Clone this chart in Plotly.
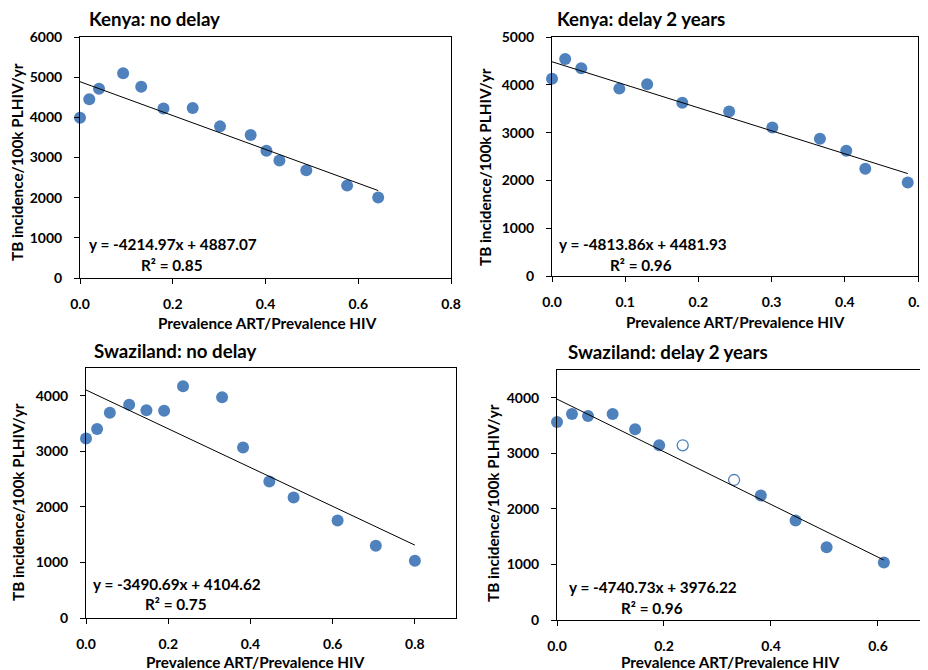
import plotly.graph_objects as go

# page body has an 8px margin; figure fills the rest of the 928x670 window
OFF = 8
W, H = 928 - OFF, 670 - OFF
BLUE = "#4F81BD"
FONT = "Lato"

# ---- data ----
kenya_nd_x = [0.0, 0.020, 0.041, 0.093, 0.132, 0.180, 0.243, 0.302, 0.368, 0.402, 0.430, 0.488, 0.576, 0.643]
kenya_nd_y = [3990, 4450, 4710, 5095, 4760, 4220, 4235, 3775, 3560, 3170, 2925, 2680, 2300, 2005]

kenya_d2_x = [0.0, 0.018, 0.040, 0.092, 0.130, 0.178, 0.242, 0.301, 0.366, 0.402, 0.428, 0.486]
kenya_d2_y = [4125, 4540, 4345, 3920, 4010, 3625, 3440, 3105, 2870, 2620, 2245, 1955]

swazi_nd_x = [0.0, 0.027, 0.058, 0.105, 0.147, 0.190, 0.236, 0.331, 0.382, 0.446, 0.505, 0.612, 0.705, 0.800]
swazi_nd_y = [3230, 3400, 3695, 3840, 3740, 3730, 4170, 3975, 3070, 2455, 2170, 1755, 1300, 1030]

swazi_d2_x = [0.0, 0.028, 0.058, 0.104, 0.146, 0.191, 0.235, 0.331, 0.381, 0.446, 0.504, 0.611]
swazi_d2_y = [3565, 3710, 3670, 3710, 3435, 3145, 3145, 2520, 2240, 1790, 1310, 1035]
swazi_d2_open = [False, False, False, False, False, False, True, True, False, False, False, False]

titles = ["Kenya: no delay", "Kenya: delay 2 years", "Swaziland: no delay", "Swaziland: delay 2 years"]
slopes = [-4214.97, -4813.86, -3490.69, -4740.73]
intercepts = [4887.07, 4481.93, 4104.62, 3976.22]
r2 = ["0.85", "0.96", "0.75", "0.96"]
x_title = "Prevalence ART/Prevalence HIV"
y_title = "TB incidence/100k PLHIV/yr"

panels = [
    (kenya_nd_x, kenya_nd_y, None),
    (kenya_d2_x, kenya_d2_y, None),
    (swazi_nd_x, swazi_nd_y, None),
    (swazi_d2_x, swazi_d2_y, swazi_d2_open),
]

# ---- layout geometry (window pixels) ----
def px(x):
    return (x - OFF) / W

def py(y):
    return 1 - (y - OFF) / H

# plot boxes: left, right, top, bottom
boxes = [(80, 451, 37, 278), (552, 918, 37, 276), (86, 456, 368, 618), (557, 928, 370, 620)]
xranges = [[0, 0.8], [0, 0.5], [0, 0.9], [0, 0.6935]]
yranges = [[0, 6000], [0, 5000], [0, 4500], [0, 4500]]
xdticks = [0.2, 0.1, 0.2, 0.2]
title_pos = [(87, 19), (555, 19), (92, 351), (566, 352)]
eq_pos = [(87, 244), (557, 244), (91, 584), (567, 587)]
r2_pos = [(139, 265), (608, 265), (143, 604), (619, 608)]
xt_pos = [(267, 323), (735, 322), (255, 662), (730, 662)]
yt_pos = [(17, 162), (485, 167), (18, 502), (493, 503)]

fig = go.Figure()
annotations = []
for i, (xs, ys, opn) in enumerate(panels):
    ax = "" if i == 0 else str(i + 1)
    xa, ya = "x" + ax, "y" + ax
    if opn is None:
        fig.add_trace(go.Scatter(x=xs, y=ys, mode="markers", xaxis=xa, yaxis=ya,
                                 marker=dict(size=12, color=BLUE, line=dict(width=0)),
                                 cliponaxis=False, showlegend=False))
    else:
        fx = [x for x, o in zip(xs, opn) if not o]
        fy = [y for y, o in zip(ys, opn) if not o]
        ox = [x for x, o in zip(xs, opn) if o]
        oy = [y for y, o in zip(ys, opn) if o]
        fig.add_trace(go.Scatter(x=fx, y=fy, mode="markers", xaxis=xa, yaxis=ya,
                                 marker=dict(size=12, color=BLUE, line=dict(width=0)),
                                 cliponaxis=False, showlegend=False))
        fig.add_trace(go.Scatter(x=ox, y=oy, mode="markers", xaxis=xa, yaxis=ya,
                                 marker=dict(size=11, color="white", line=dict(width=1.3, color=BLUE)),
                                 cliponaxis=False, showlegend=False))
    # trendline from displayed equation
    x0, x1 = min(xs), max(xs)
    fig.add_trace(go.Scatter(x=[x0, x1], y=[slopes[i] * x0 + intercepts[i], slopes[i] * x1 + intercepts[i]],
                             mode="lines", xaxis=xa, yaxis=ya, line=dict(color="black", width=1),
                             cliponaxis=False, showlegend=False, hoverinfo="skip"))
    l, r, t, b = boxes[i]
    common = dict(showline=True, linecolor="black", linewidth=1, ticks="outside", ticklen=5,
                  tickcolor="black", tickwidth=1, showgrid=False, zeroline=False, automargin=False,
                  ticklabeloverflow="allow",
                  tickfont=dict(family=FONT, size=14, color="black", weight="bold"))
    fig.update_layout(**{
        "xaxis" + ax: dict(domain=[px(l), min(1, px(r))], range=xranges[i], dtick=xdticks[i], tick0=0,
                           tickformat=".1f", anchor=ya, mirror=True, ticklabelstandoff=8, **common),
        "yaxis" + ax: dict(domain=[py(b), py(t)], range=yranges[i], dtick=1000, tick0=0,
                           anchor=xa, mirror=(i != 3), ticklabelstandoff=9, **common),
    })
    tx, ty = title_pos[i]
    annotations.append(dict(text="<b>" + titles[i] + "</b>", x=px(tx), y=py(ty), xref="paper", yref="paper",
                            xanchor="left", yanchor="middle", showarrow=False,
                            font=dict(family=FONT, size=18.7, color="black")))
    ex, ey = eq_pos[i]
    eq = "y = %.2fx + %.2f" % (slopes[i], intercepts[i])
    annotations.append(dict(text="<b>" + eq + "</b>", x=px(ex), y=py(ey), xref="paper", yref="paper",
                            xanchor="left", yanchor="middle", showarrow=False,
                            font=dict(family=FONT, size=15.3, color="black")))
    rx, ry = r2_pos[i]
    annotations.append(dict(text="<b>R² = " + r2[i] + "</b>", x=px(rx), y=py(ry), xref="paper", yref="paper",
                            xanchor="left", yanchor="middle", showarrow=False,
                            font=dict(family=FONT, size=15.3, color="black")))
    xx, xy = xt_pos[i]
    annotations.append(dict(text="<b>" + x_title + "</b>", x=px(xx), y=py(xy), xref="paper", yref="paper",
                            xanchor="center", yanchor="middle", showarrow=False,
                            font=dict(family=FONT, size=15.3, color="black")))
    yx, yy = yt_pos[i]
    annotations.append(dict(text="<b>" + y_title + "</b>", x=px(yx), y=py(yy), xref="paper", yref="paper",
                            xanchor="center", yanchor="middle", showarrow=False, textangle=-90,
                            font=dict(family=FONT, size=15.3, color="black")))

fig.update_layout(width=W, height=H, margin=dict(l=0, r=0, t=0, b=0, autoexpand=False),
                  paper_bgcolor="white", plot_bgcolor="white", annotations=annotations,
                  font=dict(family=FONT, color="black"))
fig.write_html("out.html")
